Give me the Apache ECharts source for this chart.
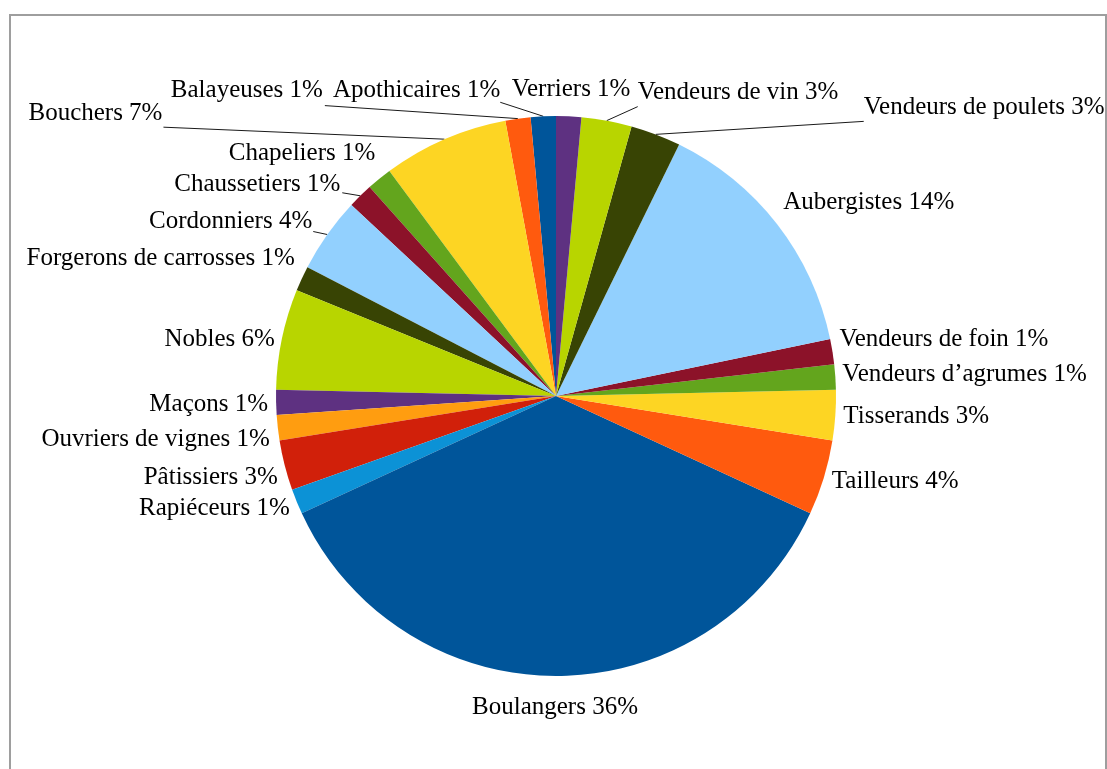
<!DOCTYPE html>
<html lang="fr">
<head>
<meta charset="utf-8">
<title>Répartition des métiers</title>
<script src="https://cdn.jsdelivr.net/npm/echarts@6/dist/echarts.min.js"></script>
<style>
  html, body { margin: 0; padding: 0; background: #ffffff; }
  #chart { width: 1107px; height: 769px; }
</style>
</head>
<body>
<div id="chart"></div>
<script>
// Trades, in drawing order (counter-clockwise from 12 o'clock)
const trades = [
  'Apothicaires', 'Balayeuses', 'Bouchers', 'Chapeliers', 'Chaussetiers',
  'Cordonniers', 'Forgerons de carrosses', 'Nobles', 'Maçons',
  'Ouvriers de vignes', 'Pâtissiers', 'Rapiéceurs', 'Boulangers',
  'Tailleurs', 'Tisserands', 'Vendeurs d’agrumes', 'Vendeurs de foin',
  'Aubergistes', 'Vendeurs de poulets', 'Vendeurs de vin', 'Verriers'
];

// Head count for each trade
const counts = [1, 1, 5, 1, 1, 3, 1, 4, 1, 1, 2, 1, 25, 3, 2, 1, 1, 10, 2, 2, 1];

// Slice colours, cycled over the trades
const palette = [
  '#00559a', '#ff5a0e', '#fdd523', '#63a51d', '#8c1229', '#92d0fe',
  '#384404', '#b8d500', '#5e3181', '#ff9d10', '#d1200a', '#0c92d6'
];

// Label placement: offset of the text anchor from the middle of the slice's
// outer arc, the text alignment, and (for leader lines) the line's end
// point relative to that anchor.
const labelPlacement = {
  'Apothicaires':           { off: [-43, -26],  align: 'right',  tail: [0, 12] },
  'Balayeuses':             { off: [-195, -28], align: 'right',  tail: [2, 15] },
  'Bouchers':               { off: [-282, -26], align: 'right',  tail: [1, 14] },
  'Chapeliers':             { off: [-4, -25],   align: 'right' },
  'Chaussetiers':           { off: [-20, -11],  align: 'right',  tail: [2, 8] },
  'Cordonniers':            { off: [-15, -13],  align: 'right',  tail: [1, 10] },
  'Forgerons de carrosses': { off: [-7, -20],   align: 'right' },
  'Nobles':                 { off: [-7, 0],     align: 'right' },
  'Maçons':                 { off: [-8, 2],     align: 'right' },
  'Ouvriers de vignes':     { off: [-8, 12],    align: 'right' },
  'Pâtissiers':             { off: [-7, 12],    align: 'right' },
  'Rapiéceurs':             { off: [-7, 7],     align: 'right' },
  'Boulangers':             { off: [-1, 31],    align: 'center' },
  'Tailleurs':              { off: [8, 4],      align: 'left' },
  'Tisserands':             { off: [8, 1],      align: 'left' },
  'Vendeurs d’agrumes':     { off: [7, -2],     align: 'left' },
  'Vendeurs de foin':       { off: [7, -12],    align: 'left' },
  'Aubergistes':            { off: [6, -22],    align: 'left' },
  'Vendeurs de poulets':    { off: [208, -27],  align: 'left',   tail: [0, 14] },
  'Vendeurs de vin':        { off: [31, -28],   align: 'left',   tail: [0, 14] },
  'Verriers':               { off: [-57, -27],  align: 'left' }
};

const total = counts.reduce((a, b) => a + b, 0);

const chart = echarts.init(document.getElementById('chart'), null, { renderer: 'canvas' });

const seriesData = trades.map((name, i) => ({
  name: name,
  value: counts[i],
  labelLine: { show: !!labelPlacement[name].tail }
}));

chart.setOption({
  animation: false,
  backgroundColor: '#ffffff',
  color: palette,
  graphic: [{
    type: 'rect',
    silent: true,
    shape: { x: 10, y: 15, width: 1096, height: 800 },
    style: { fill: 'none', stroke: '#9e9e9e', lineWidth: 2 }
  }],
  series: [{
    type: 'pie',
    center: [556, 396],
    radius: 280,
    startAngle: 90,
    clockwise: false,
    avoidLabelOverlap: false,
    emphasis: { disabled: true },
    itemStyle: { borderWidth: 0 },
    label: {
      show: true,
      position: 'outside',
      color: '#000000',
      fontFamily: '"Liberation Serif", "DejaVu Serif", serif',
      fontSize: 25,
      formatter: p => p.name + ' ' + Math.round(p.value / total * 100) + '%'
    },
    labelLine: {
      show: true,
      smooth: false,
      lineStyle: { color: '#1a1a1a', width: 1 }
    },
    labelLayout: function (params) {
      const i = params.dataIndex;
      const lay = chart.getModel().getSeriesByIndex(0).getData().getItemLayout(i);
      const mid = (lay.startAngle + lay.endAngle) / 2;
      const ex = lay.cx + lay.r * Math.cos(mid);
      const ey = lay.cy + lay.r * Math.sin(mid);
      const p = labelPlacement[trades[i]];
      const x = ex + p.off[0];
      const y = ey + p.off[1];
      const out = { x: x, y: y, align: p.align, verticalAlign: 'middle' };
      if (p.tail) {
        out.labelLinePoints = [[ex, ey], [x + p.tail[0], y + p.tail[1]]];
      }
      return out;
    },
    data: seriesData
  }]
});
</script>
</body>
</html>
